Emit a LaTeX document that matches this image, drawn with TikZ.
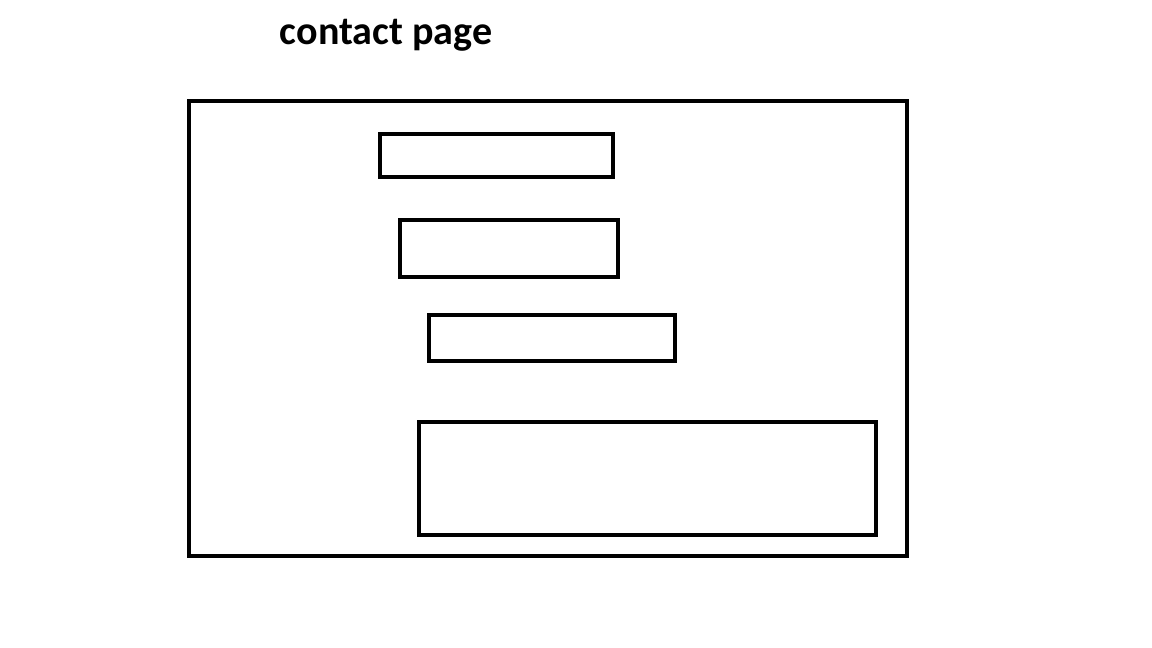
\documentclass[tikz,border=0pt]{standalone}
\usepackage{fontspec}
\setmainfont{Carlito}

\begin{document}
\begin{tikzpicture}

% Canvas
\useasboundingbox (0,0) rectangle (11.52,6.48);

% Define page frame corners
\coordinate (PageA) at (1.89, 5.47);
\coordinate (PageC) at (9.07, 0.92);

% Draw the page frame
\draw[line width=1.25pt] (PageA) rectangle (PageC);

% Input fields
\draw[line width=1.15pt] (3.80, 5.14) rectangle (6.13, 4.71);
\draw[line width=1.15pt] (4.00, 4.28) rectangle (6.18, 3.71);
\draw[line width=1.15pt] (4.29, 3.33) rectangle (6.75, 2.87);

% Message area
\draw[line width=1.15pt] (4.19, 2.26) rectangle (8.76, 1.13);

% Title
\node[anchor=base, font=\fontsize{11.4}{13}\selectfont\bfseries] (title) at (3.86, 6.03) {contact page};

\end{tikzpicture}
\end{document}
